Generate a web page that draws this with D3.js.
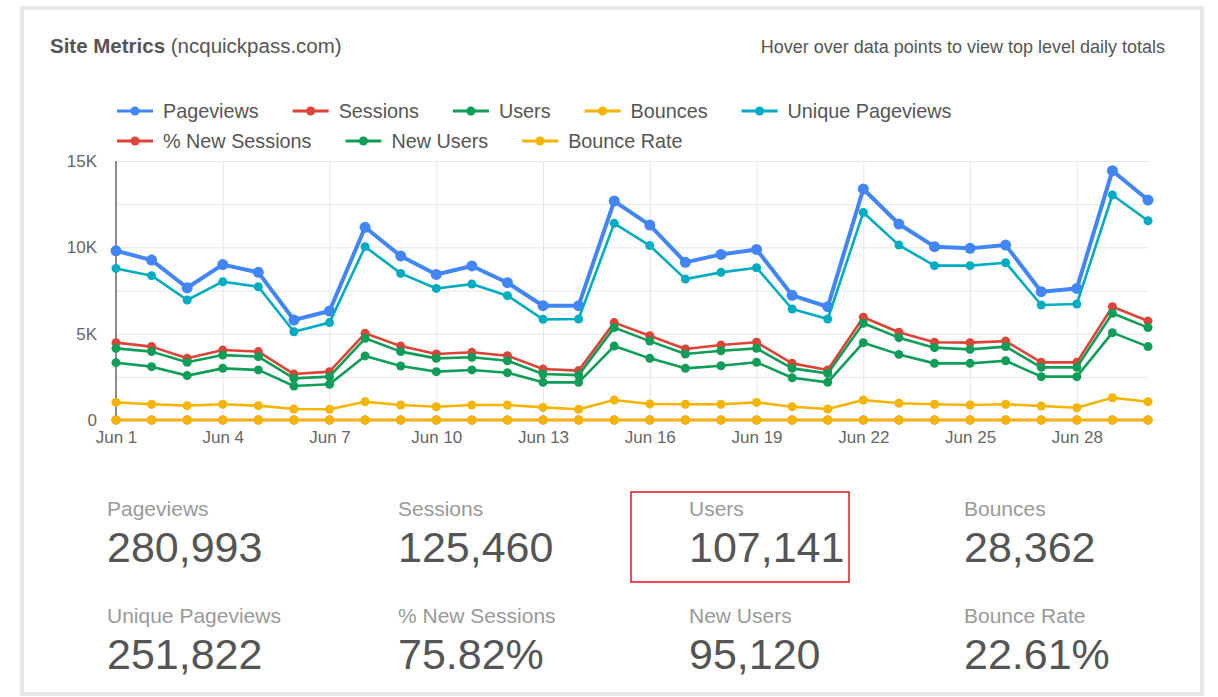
<!DOCTYPE html>
<html>
<head>
<meta charset="utf-8">
<script src="https://cdn.jsdelivr.net/npm/d3@7"></script>
<style>
  body { margin: 0; background: #fff; font-family: "Liberation Sans", Arial, sans-serif; }
  .grid line { stroke: #e6e6e6; }
  .grid .domain { display: none; }
  .tick text { fill: #666; }
</style>
</head>
<body>
<div id="chart"></div>
<script>
// days of June
const days = [1, 2, 3, 4, 5, 6, 7, 8, 9, 10, 11, 12, 13, 14, 15, 16, 17, 18, 19, 20, 21, 22, 23, 24, 25, 26, 27, 28, 29, 30];
const xTickDays = [1, 4, 7, 10, 13, 16, 19, 22, 25, 28];
const yTicks = [0, 5000, 10000, 15000];

const pageviews = [9800, 9260, 7660, 9000, 8550, 5790, 6310, 11160, 9500, 8430, 8920, 7950, 6620, 6620, 12680, 11290, 9130, 9590, 9880, 7220, 6560, 13380, 11350, 10040, 9940, 10130, 7430, 7620, 14440, 12740];
const sessions = [4480, 4250, 3570, 4050, 3960, 2660, 2800, 5020, 4280, 3820, 3920, 3720, 2950, 2860, 5640, 4880, 4110, 4340, 4500, 3280, 2900, 5950, 5080, 4500, 4480, 4570, 3340, 3340, 6560, 5730];
const users = [4150, 3960, 3340, 3760, 3670, 2410, 2510, 4730, 3960, 3570, 3630, 3430, 2660, 2600, 5350, 4570, 3820, 4010, 4150, 2990, 2700, 5600, 4770, 4190, 4090, 4250, 3050, 3050, 6180, 5350];
const bounces = [1020, 910, 830, 910, 830, 640, 620, 1060, 870, 770, 870, 870, 730, 620, 1160, 930, 910, 910, 1020, 770, 640, 1160, 970, 910, 870, 910, 810, 710, 1290, 1060];
const uniquePageviews = [8780, 8360, 6950, 8010, 7720, 5110, 5640, 10040, 8490, 7620, 7870, 7200, 5830, 5850, 11390, 10100, 8160, 8550, 8820, 6430, 5850, 12020, 10130, 8940, 8940, 9110, 6660, 6720, 13030, 11540];
// percentages (plotted as ratios, so they sit on the zero line)
const pctNewSessions = [74.1, 72.7, 72.0, 73.8, 73.2, 74.1, 73.9, 73.9, 73.1, 73.3, 74.0, 73.7, 73.9, 76.2, 75.9, 73.2, 72.7, 72.4, 74.2, 74.7, 75.2, 75.3, 74.8, 72.9, 73.2, 75.1, 75.1, 75.1, 77.1, 74.2];
const newUsers = [3320, 3090, 2570, 2990, 2900, 1970, 2070, 3710, 3130, 2800, 2900, 2740, 2180, 2180, 4280, 3570, 2990, 3140, 3340, 2450, 2180, 4480, 3800, 3280, 3280, 3430, 2510, 2510, 5060, 4250];
const bounceRate = [22.8, 21.4, 23.2, 22.5, 21.0, 24.1, 22.1, 21.1, 20.3, 20.2, 22.2, 23.4, 24.7, 21.7, 20.6, 19.1, 22.1, 21.0, 22.7, 23.5, 22.1, 19.5, 19.1, 20.2, 19.4, 19.9, 24.3, 21.3, 19.7, 18.5];

const seriesNames = ["Pageviews", "Sessions", "Users", "Bounces", "Unique Pageviews", "% New Sessions", "New Users", "Bounce Rate"];
const seriesColors = ["#4285f4", "#db4437", "#0f9d58", "#f4b400", "#00acc1", "#db4437", "#0f9d58", "#f4b400"];

const statLabels = ["Pageviews", "Sessions", "Users", "Bounces", "Unique Pageviews", "% New Sessions", "New Users", "Bounce Rate"];
const statValues = ["280,993", "125,460", "107,141", "28,362", "251,822", "75.82%", "95,120", "22.61%"];

const series = [
  pageviews, sessions, users, bounces, uniquePageviews,
  pctNewSessions.map(v => v / 100), newUsers, bounceRate.map(v => v / 100)
].map((vals, i) => ({ name: seriesNames[i], color: seriesColors[i], values: vals }));

const W = 1218, H = 697;

const svg = d3.select("#chart").append("svg").attr("width", W).attr("height", H);

// card
svg.append("rect")
  .attr("x", 22).attr("y", 8).attr("width", 1180).attr("height", 686)
  .attr("fill", "#fff").attr("stroke", "#e8e8e8").attr("stroke-width", 4);

// title
const title = svg.append("text").attr("x", 50).attr("y", 53)
  .attr("font-size", 20.5).attr("fill", "#555");
title.append("tspan").attr("font-weight", "bold").text("Site Metrics");
title.append("tspan").text(" (ncquickpass.com)");

svg.append("text").attr("x", 1165).attr("y", 53)
  .attr("text-anchor", "end").attr("font-size", 18).attr("fill", "#555")
  .text("Hover over data points to view top level daily totals");

// scales
const x = d3.scaleLinear().domain([1, 30]).range([116, 1148]);
const y = d3.scaleLinear().domain([0, 15000]).range([420, 161]);

// gridlines
svg.append("g").attr("class", "grid")
  .attr("transform", "translate(116,0)")
  .call(d3.axisLeft(y).tickValues(d3.range(2500, 15001, 2500)).tickSize(-(1148 - 116)).tickFormat(""));
svg.append("g").attr("class", "grid")
  .attr("transform", "translate(0,420)")
  .call(d3.axisBottom(x).tickValues(xTickDays.slice(1)).tickSize(-(420 - 161)).tickFormat(""));

// axes
const yAxisG = svg.append("g").attr("transform", "translate(116,0)")
  .call(d3.axisLeft(y).tickValues(yTicks).tickSize(0).tickPadding(19)
    .tickFormat(d => d === 0 ? "0" : d / 1000 + "K"));
yAxisG.select(".domain").remove();
yAxisG.selectAll("text").attr("font-size", 17).attr("font-family", "Liberation Sans, Arial, sans-serif");

const xAxisG = svg.append("g").attr("transform", "translate(0,420)")
  .call(d3.axisBottom(x).tickValues(xTickDays).tickSize(0).tickPadding(11)
    .tickFormat(d => "Jun " + d));
xAxisG.select(".domain").remove();
xAxisG.selectAll("text").attr("font-size", 17).attr("font-family", "Liberation Sans, Arial, sans-serif");

svg.append("line").attr("x1", 116).attr("x2", 116).attr("y1", 161).attr("y2", 421)
  .attr("stroke", "#666").attr("stroke-width", 1.5);

// lines
const line = d3.line().x((d, i) => x(days[i])).y(d => y(d));
const sg = svg.selectAll(".serie").data(series).join("g").attr("class", "serie");
sg.append("path")
  .attr("d", d => line(d.values))
  .attr("fill", "none")
  .attr("stroke", d => d.color)
  .attr("stroke-width", (d, i) => i === 0 ? 4 : 2.6)
  .attr("stroke-linejoin", "round");
sg.each(function (d, si) {
  d3.select(this).selectAll("circle").data(d.values).join("circle")
    .attr("cx", (v, i) => x(days[i]))
    .attr("cy", v => y(v))
    .attr("r", si === 0 ? 5.5 : 4.5)
    .attr("fill", d.color);
});

// legend
const legend = svg.append("g");
let lx = 117, ly = 111;
series.forEach(s => {
  const g = legend.append("g");
  const t = g.append("text").attr("x", 46).attr("y", 0).attr("dy", "0.35em")
    .attr("font-size", 19.8).attr("fill", "#555").text(s.name);
  const w = 46 + t.node().getComputedTextLength();
  if (lx + w > 1010) { lx = 117; ly += 30; }
  g.attr("transform", `translate(${lx},${ly})`);
  g.append("line").attr("x1", 0).attr("x2", 36).attr("y1", 0).attr("y2", 0)
    .attr("stroke", s.color).attr("stroke-width", 3);
  g.append("circle").attr("cx", 18).attr("cy", 0).attr("r", 4.5).attr("fill", s.color);
  lx += w + 34;
});

// stats
const statX = [107, 398, 689, 964];
const statY = [516, 623];
statLabels.forEach((lab, i) => {
  const cx = statX[i % 4], cy = statY[Math.floor(i / 4)];
  svg.append("text").attr("x", cx).attr("y", cy)
    .attr("font-size", 21).attr("fill", "#999").text(lab);
  svg.append("text").attr("x", cx).attr("y", cy + 46)
    .attr("font-size", 43).attr("fill", "#555").text(statValues[i]);
});

// highlight box around Users
svg.append("rect").attr("x", 631).attr("y", 492).attr("width", 218).attr("height", 90)
  .attr("fill", "none").attr("stroke", "#e8141b").attr("stroke-width", 1.5);
</script>
</body>
</html>
